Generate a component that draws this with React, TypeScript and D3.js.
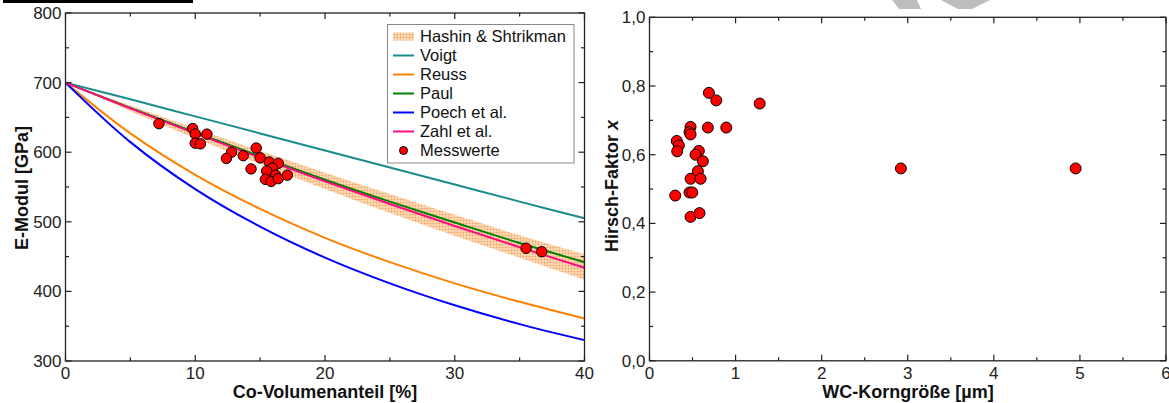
import React from 'react';
import * as d3 from 'd3';

// ---------- Data (left chart) ----------
const coFractions = [0, 5, 10, 15, 20, 25, 30, 35, 40];
const voigt = [700, 676, 651.5, 627, 602.5, 578, 553.5, 529, 505];
const reuss = [700, 627, 567.5, 518.5, 477, 442, 411.5, 385, 361];
const paul = [700, 663.5, 628.5, 594, 560.5, 529, 499, 469.5, 442];
const poech = [700, 614.5, 547, 493, 448.5, 411.5, 380, 353, 330];
const zahl = [700, 663, 627, 592, 558, 525.5, 494, 463.5, 434];
const hsUpper = [700, 667, 634, 602, 570.5, 540, 510, 480.5, 453];
const hsLower = [700, 659, 620, 583, 547, 512.5, 480, 448.5, 417];

const messCo = [7.2, 9.8, 10.0, 10.9, 10.0, 10.4, 12.8, 12.4, 13.7, 14.7, 15.0, 14.3, 15.7, 16.4, 15.95, 15.5, 16.2, 15.4, 15.85, 16.4, 17.1, 35.5, 36.7];
const messE = [641, 634, 626, 626, 613, 612, 600, 591, 595, 606, 592, 576, 586, 584, 577, 573, 567, 561, 558, 562, 567, 462, 457];

const leftXTicks = [0, 10, 20, 30, 40];
const leftXMinor = [5, 15, 25, 35];
const leftYTicks = [300, 400, 500, 600, 700, 800];
const leftYMinor = [350, 450, 550, 650, 750];

const legendLabels = ['Hashin & Shtrikman', 'Voigt', 'Reuss', 'Paul', 'Poech et al.', 'Zahl et al.', 'Messwerte'];

// ---------- Data (right chart) ----------
const wcSize = [0.69, 0.776, 1.28, 0.477, 0.465, 0.477, 0.678, 0.892, 0.317, 0.341, 0.322, 0.573, 0.535, 0.62, 0.562, 0.477, 0.593, 0.465, 0.497, 0.299, 0.477, 0.581, 2.92, 4.95];
const hirsch = [0.78, 0.758, 0.749, 0.681, 0.666, 0.659, 0.679, 0.679, 0.64, 0.627, 0.61, 0.611, 0.6, 0.581, 0.552, 0.53, 0.53, 0.49, 0.49, 0.481, 0.419, 0.43, 0.56, 0.56];

const rightXTicks = [0, 1, 2, 3, 4, 5, 6];
const rightXMinor = [0.5, 1.5, 2.5, 3.5, 4.5, 5.5];
const rightYTicks = [0, 0.2, 0.4, 0.6, 0.8, 1.0];
const rightYMinor = [0.1, 0.3, 0.5, 0.7, 0.9];

const FONT = 'Liberation Sans, Arial, sans-serif';
const AX = '#222';

const colors = {
  voigt: '#1b8c8c',
  reuss: '#ff8000',
  paul: '#008000',
  poech: '#0000ff',
  zahl: '#ff0a82',
};

function Frame({ x, y, xTicks, xMinor, yTicks, yMinor, xFmt, yFmt }: any) {
  const [x0, x1] = x.range();
  const [y0, y1] = y.range(); // y0 bottom, y1 top
  const maj = 6;
  const min = 3.5;
  return (
    <g>
      <rect x={x0} y={y1} width={x1 - x0} height={y0 - y1} fill="none" stroke={AX} strokeWidth={1.3} />
      {xTicks.map((t: number) => (
        <g key={'xt' + t}>
          <line x1={x(t)} x2={x(t)} y1={y0} y2={y0 - maj} stroke={AX} strokeWidth={1.2} />
          <line x1={x(t)} x2={x(t)} y1={y1} y2={y1 + maj} stroke={AX} strokeWidth={1.2} />
          <text x={x(t)} y={y0 + 18} textAnchor="middle" fontSize={17} fontFamily={FONT} fill="#222">{xFmt(t)}</text>
        </g>
      ))}
      {xMinor.map((t: number) => (
        <g key={'xm' + t}>
          <line x1={x(t)} x2={x(t)} y1={y0} y2={y0 - min} stroke={AX} strokeWidth={1.2} />
          <line x1={x(t)} x2={x(t)} y1={y1} y2={y1 + min} stroke={AX} strokeWidth={1.2} />
        </g>
      ))}
      {yTicks.map((t: number) => (
        <g key={'yt' + t}>
          <line x1={x0} x2={x0 + maj} y1={y(t)} y2={y(t)} stroke={AX} strokeWidth={1.2} />
          <line x1={x1} x2={x1 - maj} y1={y(t)} y2={y(t)} stroke={AX} strokeWidth={1.2} />
          <text x={x0 - 4} y={y(t)} dy="0.35em" textAnchor="end" fontSize={17} fontFamily={FONT} fill="#222">{yFmt(t)}</text>
        </g>
      ))}
      {yMinor.map((t: number) => (
        <g key={'ym' + t}>
          <line x1={x0} x2={x0 + min} y1={y(t)} y2={y(t)} stroke={AX} strokeWidth={1.2} />
          <line x1={x1} x2={x1 - min} y1={y(t)} y2={y(t)} stroke={AX} strokeWidth={1.2} />
        </g>
      ))}
    </g>
  );
}

export default function App() {
  // Left chart scales
  const lx = d3.scaleLinear().domain([0, 40]).range([65.5, 584.5]);
  const ly = d3.scaleLinear().domain([300, 800]).range([361, 13]);
  // Right chart scales
  const rx = d3.scaleLinear().domain([0, 6]).range([649.5, 1166]);
  const ry = d3.scaleLinear().domain([0, 1]).range([360.8, 17.3]);

  const line = (vals: number[]) =>
    d3.line<number>()
      .x((_, i) => lx(coFractions[i]))
      .y((d) => ly(d))
      .curve(d3.curveCatmullRom.alpha(0.5))(vals) as string;

  const band = d3.area<number>()
    .x((_, i) => lx(coFractions[i]))
    .y0((_, i) => ly(hsLower[i]))
    .y1((_, i) => ly(hsUpper[i]))
    .curve(d3.curveCatmullRom.alpha(0.5))(coFractions) as string;

  const series = [
    { v: voigt, c: colors.voigt },
    { v: reuss, c: colors.reuss },
    { v: poech, c: colors.poech },
    { v: paul, c: colors.paul },
    { v: zahl, c: colors.zahl },
  ];

  const legendX = 387.5;
  const legendY = 24.5;
  const legendColors = [null, colors.voigt, colors.reuss, colors.paul, colors.poech, colors.zahl, null];

  return (
    <svg width={1169} height={403} style={{ position: 'absolute', left: 0, top: 0, background: '#fff' }}>
      <defs>
        <pattern id="hsPat" width="3" height="3" patternUnits="userSpaceOnUse">
          <rect width="3" height="3" fill="#fdddbf" />
          <circle cx="1.5" cy="1.5" r="0.95" fill="#f5a25a" />
        </pattern>
        <clipPath id="leftClip">
          <rect x={65.5} y={13} width={519} height={348} />
        </clipPath>
      </defs>

      {/* decorations */}
      <rect x={3} y={0} width={190} height={3} fill="#000" />
      <polygon points="892,0 917,0 921,9 899,9" fill="#bdbdbd" />
      <polygon points="941,0 990,0 972,9 958,9" fill="#bdbdbd" />

      {/* ---------- Left chart ---------- */}
      <g clipPath="url(#leftClip)">
        <path d={band} fill="url(#hsPat)" />
        {series.map((s, i) => (
          <path key={i} d={line(s.v)} fill="none" stroke={s.c} strokeWidth={2} />
        ))}
      </g>
      {messCo.map((c, i) => (
        <circle key={i} cx={lx(c)} cy={ly(messE[i])} r={5.2} fill="#ff0000" stroke="#000" strokeWidth={1} />
      ))}
      <Frame x={lx} y={ly} xTicks={leftXTicks} xMinor={leftXMinor} yTicks={leftYTicks} yMinor={leftYMinor}
        xFmt={(t: number) => String(t)} yFmt={(t: number) => String(t)} />

      {/* legend */}
      <rect x={legendX} y={legendY} width={186.5} height={138.5} fill="#fff" stroke="#888" strokeWidth={1} />
      {legendLabels.map((lab, i) => {
        const yy = 36.5 + i * 19;
        return (
          <g key={lab}>
            {i === 0 && <rect x={393} y={yy - 4} width={21} height={8} fill="url(#hsPat)" />}
            {legendColors[i] && <line x1={393} x2={414} y1={yy} y2={yy} stroke={legendColors[i] as string} strokeWidth={2} />}
            {i === 6 && <circle cx={403.5} cy={yy} r={4} fill="#ff0000" stroke="#000" strokeWidth={1} />}
            <text x={420} y={yy} dy="0.35em" fontSize={16.5} fontFamily={FONT} fill="#111">{lab}</text>
          </g>
        );
      })}

      <text x={325} y={398} textAnchor="middle" fontSize={18} fontWeight="bold" fontFamily={FONT} fill="#111">Co-Volumenanteil [%]</text>
      <text transform="translate(28,188) rotate(-90)" textAnchor="middle" fontSize={18} fontWeight="bold" fontFamily={FONT} fill="#111">E-Modul [GPa]</text>

      {/* ---------- Right chart ---------- */}
      {wcSize.map((w, i) => (
        <circle key={i} cx={rx(w)} cy={ry(hirsch[i])} r={5.5} fill="#ff0000" stroke="#000" strokeWidth={1} />
      ))}
      <Frame x={rx} y={ry} xTicks={rightXTicks} xMinor={rightXMinor} yTicks={rightYTicks} yMinor={rightYMinor}
        xFmt={(t: number) => String(t)} yFmt={(t: number) => t.toFixed(1).replace('.', ',')} />

      <text x={908} y={398} textAnchor="middle" fontSize={18} fontWeight="bold" fontFamily={FONT} fill="#111">WC-Korngröße [µm]</text>
      <text transform="translate(618,186) rotate(-90)" textAnchor="middle" fontSize={18} fontWeight="bold" fontFamily={FONT} fill="#111">
        Hirsch-Faktor <tspan fontStyle="italic">x</tspan>
      </text>
    </svg>
  );
}
